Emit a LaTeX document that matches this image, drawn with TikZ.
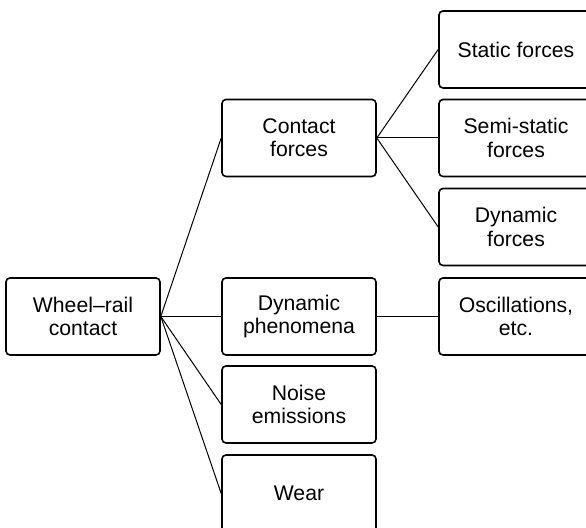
\documentclass[tikz,border=0pt]{standalone}
\usepackage{fontspec}
\setmainfont{Liberation Sans}
\usetikzlibrary{positioning}

\begin{document}
\begin{tikzpicture}[x = 0.5pt, y = 0.5pt,
	box/.style = {draw, line width = .8pt, rounded corners = 2pt, align = center, minimum width = 77pt, minimum height = 38.5pt, inner sep = 0pt, font = \fontsize{10.6}{11.7}\selectfont},
	link/.style = {line width = .5pt}]
	\useasboundingbox (0,0) rectangle (586,528);
	\clip (0,0) rectangle (586,528);
	%first column
	\node[box] (wheel) at (83,211.5) {Wheel--rail\\contact};
	%second column
	\node[box] (contact) at (299,390) {Contact\\forces};
	\node[box] (dynphen) at (299,211.5) {Dynamic\\phenomena};
	\node[box] (noise) at (299,123.5) {Noise\\emissions};
	\node[box] (wear) at (299,34.5) {Wear};
	%third column
	\node[box] (static) at (516,478.5) {Static forces};
	\node[box] (semistatic) at (516,390) {Semi-static\\forces};
	\node[box] (dynforces) at (516,301) {Dynamic\\forces};
	\node[box] (osc) at (516,211.5) {Oscillations,\\etc.};
	%connectors
	\draw[link] (wheel.east) -- (contact.west);
	\draw[link] (wheel.east) -- (dynphen.west);
	\draw[link] (wheel.east) -- (noise.west);
	\draw[link] (wheel.east) -- (wear.west);
	\draw[link] (contact.east) -- (static.west);
	\draw[link] (contact.east) -- (semistatic.west);
	\draw[link] (contact.east) -- (dynforces.west);
	\draw[link] (dynphen.east) -- (osc.west);
\end{tikzpicture}
\end{document}
